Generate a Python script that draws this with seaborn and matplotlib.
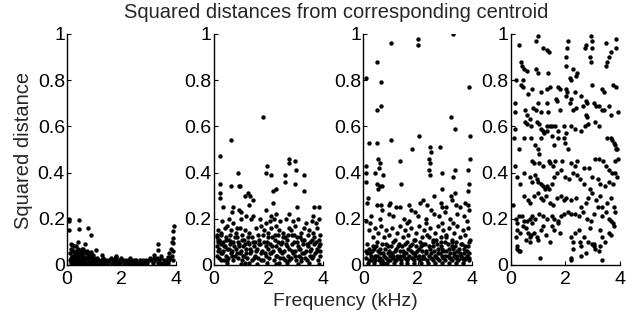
import matplotlib
matplotlib.use("Agg")
import matplotlib.pyplot as plt
import seaborn as sns

# (frequency kHz, squared distance), one list per cluster
cluster1_pts = [
    (0.09, 0.20), (0.09, 0.19), (0.09, 0.15), (0.45, 0.195), (0.45, 0.155),
    (0.76, 0.16), (0.88, 0.13), (0.42, 0.10), (0.67, 0.09), (0.33, 0.08),
    (0.57, 0.07), (0.72, 0.06), (1.06, 0.065), (3.33, 0.09), (3.33, 0.065),
    (3.94, 0.17), (3.91, 0.145), (3.88, 0.115), (3.85, 0.10), (3.90, 0.095),
    (3.82, 0.07), (3.75, 0.05), (3.70, 0.035), (1.80, 0.04),
    (0.10, 0.02), (0.12, 0.05), (0.13, 0.01), (0.15, 0.07), (0.16, 0.03),
    (0.18, 0.04), (0.20, 0.01), (0.21, 0.06), (0.23, 0.02), (0.25, 0.08),
    (0.26, 0.04), (0.28, 0.01), (0.30, 0.05), (0.31, 0.03), (0.34, 0.06),
    (0.35, 0.02), (0.37, 0.04), (0.39, 0.01), (0.40, 0.07), (0.42, 0.03),
    (0.44, 0.05), (0.46, 0.02), (0.48, 0.04), (0.50, 0.06), (0.51, 0.01),
    (0.53, 0.03), (0.55, 0.05), (0.57, 0.02), (0.60, 0.04), (0.62, 0.01),
    (0.63, 0.06), (0.65, 0.03), (0.68, 0.02), (0.70, 0.05), (0.72, 0.01),
    (0.74, 0.03), (0.77, 0.04), (0.80, 0.02), (0.82, 0.05), (0.85, 0.01),
    (0.88, 0.03), (0.90, 0.04), (0.93, 0.02), (0.96, 0.01), (1.00, 0.03),
    (1.03, 0.02), (1.08, 0.01), (1.12, 0.03), (1.15, 0.02), (1.20, 0.01),
    (1.24, 0.02), (1.28, 0.01), (1.32, 0.03), (1.36, 0.02), (1.40, 0.01),
    (1.45, 0.02), (1.50, 0.01), (1.55, 0.02), (1.60, 0.03), (1.64, 0.01),
    (1.68, 0.02), (1.72, 0.01), (1.76, 0.03), (1.80, 0.02), (1.85, 0.01),
    (1.90, 0.02), (1.95, 0.01), (2.00, 0.03), (2.04, 0.02), (2.10, 0.01),
    (2.14, 0.02), (2.20, 0.01), (2.25, 0.02), (2.30, 0.01), (2.36, 0.02),
    (2.40, 0.01), (2.45, 0.02), (2.50, 0.01), (2.55, 0.02), (2.60, 0.01),
    (2.66, 0.01), (2.70, 0.02), (2.76, 0.01), (2.80, 0.02), (2.85, 0.01),
    (2.90, 0.02), (2.95, 0.01), (3.00, 0.02), (3.05, 0.03), (3.10, 0.02),
    (3.15, 0.01), (3.20, 0.03), (3.25, 0.02), (3.30, 0.03), (3.35, 0.01),
    (3.40, 0.02), (3.45, 0.03), (3.50, 0.01), (3.55, 0.02), (3.60, 0.01),
    (3.65, 0.02), (3.70, 0.01), (3.75, 0.02), (3.80, 0.03), (3.85, 0.04),
    (3.88, 0.06), (3.90, 0.02), (0.14, 0.09), (0.18, 0.085), (0.22, 0.06),
    (0.33, 0.05), (0.58, 0.07), (0.88, 0.055), (0.95, 0.045), (1.30, 0.045),
    (1.82, 0.035), (2.30, 0.03), (3.20, 0.045), (3.45, 0.04), (3.40, 0.005),
    (1.10, 0.005), (2.50, 0.005), (0.60, 0.005),
]

cluster2_pts = [
    (1.82, 0.64), (0.64, 0.54), (0.23, 0.47), (0.21, 0.35), (0.23, 0.31),
    (0.23, 0.29), (0.88, 0.40), (1.95, 0.43), (1.92, 0.40), (2.12, 0.39),
    (2.75, 0.46), (2.75, 0.44), (3.00, 0.45), (3.02, 0.41), (3.00, 0.35),
    (2.60, 0.39), (2.61, 0.36), (3.33, 0.39), (3.33, 0.32), (0.64, 0.34),
    (0.92, 0.34), (0.97, 0.34), (1.25, 0.31), (1.33, 0.30), (1.43, 0.28),
    (1.13, 0.30), (1.28, 0.26), (2.17, 0.32), (2.29, 0.33), (2.17, 0.27),
    (0.33, 0.25), (0.70, 0.25), (0.67, 0.23), (1.00, 0.23), (0.92, 0.24),
    (3.88, 0.25), (3.69, 0.25), (3.66, 0.21), (3.05, 0.25), (2.75, 0.22),
    (1.92, 0.24), (2.30, 0.22), (2.10, 0.21),
    (0.30, 0.19), (0.55, 0.20), (0.70, 0.18), (1.00, 0.20), (1.20, 0.21),
    (1.35, 0.20), (1.45, 0.21), (1.70, 0.20), (1.90, 0.18), (2.05, 0.19),
    (2.20, 0.20), (2.45, 0.19), (2.65, 0.20), (2.90, 0.19), (3.10, 0.20),
    (3.40, 0.18), (3.60, 0.19), (3.75, 0.18), (3.85, 0.20),
    (0.15, 0.15), (0.25, 0.14), (0.40, 0.16), (0.50, 0.17), (0.65, 0.15),
    (0.80, 0.14), (0.95, 0.16), (1.15, 0.15), (1.30, 0.14), (1.55, 0.16),
    (1.75, 0.17), (1.85, 0.15), (2.00, 0.14), (2.10, 0.16), (2.30, 0.17),
    (2.40, 0.15), (2.55, 0.14), (2.75, 0.16), (2.85, 0.15), (3.00, 0.17),
    (3.20, 0.14), (3.30, 0.16), (3.50, 0.15), (3.65, 0.14), (3.80, 0.16),
    (3.90, 0.13), (0.12, 0.12), (0.20, 0.11), (0.28, 0.13), (0.35, 0.10),
    (0.45, 0.12), (0.55, 0.11), (0.60, 0.13), (0.72, 0.10), (0.85, 0.12),
    (0.90, 0.10), (1.05, 0.13), (1.10, 0.11), (1.25, 0.10), (1.40, 0.12),
    (1.50, 0.10), (1.65, 0.11), (1.80, 0.13), (1.95, 0.10), (2.15, 0.12),
    (2.25, 0.11), (2.35, 0.13), (2.50, 0.10), (2.60, 0.12), (2.70, 0.11),
    (2.95, 0.13), (3.05, 0.10), (3.15, 0.12), (3.25, 0.11), (3.45, 0.13),
    (3.55, 0.10), (3.70, 0.12), (3.85, 0.11), (3.92, 0.09),
    (0.10, 0.08), (0.18, 0.07), (0.25, 0.09), (0.32, 0.06), (0.40, 0.08),
    (0.48, 0.07), (0.58, 0.09), (0.66, 0.06), (0.75, 0.08), (0.82, 0.07),
    (0.92, 0.09), (1.00, 0.06), (1.08, 0.08), (1.18, 0.07), (1.28, 0.09),
    (1.38, 0.06), (1.48, 0.08), (1.58, 0.07), (1.70, 0.09), (1.78, 0.06),
    (1.90, 0.08), (2.00, 0.07), (2.08, 0.09), (2.18, 0.06), (2.28, 0.08),
    (2.38, 0.07), (2.48, 0.09), (2.58, 0.06), (2.68, 0.08), (2.78, 0.07),
    (2.88, 0.09), (2.98, 0.06), (3.08, 0.08), (3.18, 0.07), (3.28, 0.09),
    (3.38, 0.06), (3.48, 0.08), (3.58, 0.07), (3.68, 0.09), (3.78, 0.06),
    (3.88, 0.08), (0.12, 0.04), (0.20, 0.03), (0.30, 0.05), (0.38, 0.02),
    (0.45, 0.04), (0.52, 0.03), (0.62, 0.05), (0.70, 0.02), (0.78, 0.04),
    (0.88, 0.03), (0.96, 0.05), (1.05, 0.02), (1.12, 0.04), (1.22, 0.03),
    (1.32, 0.05), (1.42, 0.02), (1.52, 0.04), (1.62, 0.03), (1.72, 0.05),
    (1.82, 0.02), (1.92, 0.04), (2.02, 0.03), (2.12, 0.05), (2.22, 0.02),
    (2.32, 0.04), (2.42, 0.03), (2.52, 0.05), (2.62, 0.02), (2.72, 0.04),
    (2.82, 0.03), (2.92, 0.05), (3.02, 0.02), (3.12, 0.04), (3.22, 0.03),
    (3.32, 0.05), (3.42, 0.02), (3.52, 0.04), (3.62, 0.03), (3.72, 0.05),
    (3.82, 0.02), (3.90, 0.04), (0.50, 0.01), (1.00, 0.005), (1.30, 0.01),
    (1.60, 0.005), (1.95, 0.01), (2.30, 0.005), (2.70, 0.01), (3.10, 0.005),
    (3.50, 0.01), (3.85, 0.005), (0.10, 0.13), (0.15, 0.11),
    (0.14, 0.06), (0.22, 0.10), (0.27, 0.05), (0.36, 0.08), (0.43, 0.11),
    (0.47, 0.02), (0.56, 0.07), (0.64, 0.10), (0.68, 0.04), (0.77, 0.12),
    (0.84, 0.05), (0.94, 0.08), (1.02, 0.11), (1.07, 0.04), (1.16, 0.09),
    (1.20, 0.05), (1.26, 0.12), (1.34, 0.07), (1.44, 0.10), (1.46, 0.03),
    (1.56, 0.06), (1.66, 0.09), (1.74, 0.02), (1.86, 0.10), (1.88, 0.05),
    (1.98, 0.12), (2.06, 0.05), (2.14, 0.08), (2.24, 0.13), (2.27, 0.04),
    (2.36, 0.10), (2.44, 0.06), (2.54, 0.12), (2.56, 0.03), (2.64, 0.09),
    (2.74, 0.13), (2.76, 0.02), (2.86, 0.06), (2.94, 0.10), (3.00, 0.04),
    (3.06, 0.12), (3.14, 0.07), (3.24, 0.05), (3.30, 0.11), (3.36, 0.03),
    (3.44, 0.09), (3.54, 0.06), (3.60, 0.11), (3.66, 0.04), (3.76, 0.10),
    (3.80, 0.07), (3.92, 0.06), (0.16, 0.10), (0.26, 0.02), (1.14, 0.01),
    (2.40, 0.01), (3.20, 0.015), (0.85, 0.16), (1.62, 0.13), (2.86, 0.13),
]

cluster3_pts = [
    (0.12, 0.81), (0.51, 0.88), (0.64, 0.79), (1.03, 0.96), (2.00, 0.98),
    (2.02, 0.95), (3.30, 1.00), (3.88, 0.77), (0.51, 0.67), (0.66, 0.69),
    (3.23, 0.64), (3.36, 0.59), (3.91, 0.56), (0.20, 0.53), (0.51, 0.53),
    (1.03, 0.54), (2.04, 0.56), (1.80, 0.50), (1.37, 0.45), (1.40, 0.35),
    (2.47, 0.51), (2.50, 0.49), (2.81, 0.51),
    (0.12, 0.43), (0.12, 0.40), (0.10, 0.36), (0.55, 0.46), (0.60, 0.44),
    (0.57, 0.42), (0.43, 0.40), (0.73, 0.39), (2.41, 0.46), (2.45, 0.44),
    (2.43, 0.41), (2.47, 0.39), (2.90, 0.40), (3.36, 0.41), (3.30, 0.38),
    (3.85, 0.41), (3.91, 0.46), (3.90, 0.35), (0.50, 0.35), (0.60, 0.34),
    (0.56, 0.33), (0.70, 0.34), (2.88, 0.33), (2.60, 0.30), (3.24, 0.30),
    (3.36, 0.31), (0.18, 0.29), (3.85, 0.32),
    (0.15, 0.27), (0.50, 0.26), (0.65, 0.26), (0.70, 0.24), (0.95, 0.26),
    (1.00, 0.27), (1.20, 0.25), (1.35, 0.25), (1.70, 0.26), (1.75, 0.24),
    (2.10, 0.27), (2.20, 0.28), (2.35, 0.26), (2.85, 0.27), (2.90, 0.25),
    (3.05, 0.25), (3.25, 0.28), (3.40, 0.26), (3.55, 0.25), (3.75, 0.27),
    (3.85, 0.26), (3.90, 0.24), (0.30, 0.21), (0.60, 0.20), (0.95, 0.22),
    (1.10, 0.21), (1.50, 0.20), (1.70, 0.19), (2.00, 0.21), (2.30, 0.20),
    (2.60, 0.22), (2.80, 0.21), (3.00, 0.23), (3.20, 0.20), (3.45, 0.22),
    (3.70, 0.21), (3.80, 0.19), (0.10, 0.19), (1.90, 0.23), (2.50, 0.24),
    (0.20, 0.15), (0.35, 0.12), (0.45, 0.16), (0.55, 0.14), (0.65, 0.17),
    (0.75, 0.12), (0.85, 0.15), (0.95, 0.13), (1.05, 0.16), (1.15, 0.11),
    (1.25, 0.14), (1.35, 0.17), (1.45, 0.12), (1.55, 0.15), (1.65, 0.13),
    (1.75, 0.16), (1.85, 0.11), (1.95, 0.14), (2.05, 0.17), (2.15, 0.12),
    (2.25, 0.15), (2.35, 0.13), (2.45, 0.16), (2.55, 0.11), (2.65, 0.14),
    (2.75, 0.17), (2.85, 0.12), (2.95, 0.15), (3.05, 0.13), (3.15, 0.16),
    (3.25, 0.11), (3.35, 0.14), (3.45, 0.17), (3.55, 0.12), (3.65, 0.15),
    (3.75, 0.13), (3.85, 0.16), (3.92, 0.11), (0.25, 0.18), (1.60, 0.18),
    (2.30, 0.18), (2.90, 0.18), (3.30, 0.18),
    (0.15, 0.09), (0.35, 0.08), (0.50, 0.10), (0.70, 0.09), (0.90, 0.08),
    (1.10, 0.10), (1.30, 0.09), (1.42, 0.08), (1.60, 0.10), (1.80, 0.09),
    (1.95, 0.08), (2.10, 0.10), (2.20, 0.09), (2.40, 0.08), (2.55, 0.10),
    (2.70, 0.09), (2.85, 0.08), (3.00, 0.10), (3.10, 0.09), (3.25, 0.08),
    (3.40, 0.10), (3.60, 0.09), (3.75, 0.08), (3.88, 0.10),
    (0.10, 0.06), (0.25, 0.05), (0.40, 0.07), (0.55, 0.06), (0.62, 0.05),
    (0.80, 0.07), (0.95, 0.06), (1.05, 0.05), (1.20, 0.07), (1.35, 0.06),
    (1.50, 0.05), (1.65, 0.07), (1.75, 0.06), (1.90, 0.05), (2.05, 0.07),
    (2.15, 0.06), (2.30, 0.05), (2.45, 0.07), (2.60, 0.06), (2.75, 0.05),
    (2.90, 0.07), (3.05, 0.06), (3.20, 0.05), (3.30, 0.07), (3.45, 0.06),
    (3.55, 0.05), (3.70, 0.07), (3.80, 0.06), (3.90, 0.05),
    (0.12, 0.03), (0.20, 0.02), (0.30, 0.04), (0.38, 0.03), (0.45, 0.02),
    (0.52, 0.04), (0.60, 0.03), (0.68, 0.02), (0.75, 0.04), (0.85, 0.03),
    (0.92, 0.02), (1.00, 0.04), (1.08, 0.03), (1.15, 0.02), (1.25, 0.04),
    (1.32, 0.03), (1.40, 0.02), (1.48, 0.04), (1.55, 0.03), (1.62, 0.02),
    (1.70, 0.04), (1.78, 0.03), (1.85, 0.02), (1.92, 0.04), (2.00, 0.03),
    (2.08, 0.02), (2.18, 0.04), (2.25, 0.03), (2.35, 0.02), (2.42, 0.04),
    (2.50, 0.03), (2.58, 0.02), (2.65, 0.04), (2.72, 0.03), (2.80, 0.02),
    (2.88, 0.04), (2.95, 0.03), (3.02, 0.02), (3.12, 0.04), (3.18, 0.03),
    (3.28, 0.02), (3.35, 0.04), (3.42, 0.03), (3.50, 0.02), (3.58, 0.04),
    (3.65, 0.03), (3.72, 0.02), (3.82, 0.04), (3.88, 0.03),
    (0.18, 0.01), (0.40, 0.01), (0.65, 0.01), (0.88, 0.01), (1.12, 0.01),
    (1.38, 0.01), (1.60, 0.01), (1.88, 0.01), (2.12, 0.01), (2.38, 0.01),
    (2.62, 0.01), (2.90, 0.01), (3.15, 0.01), (3.40, 0.01), (3.68, 0.01),
    (0.14, 0.05), (0.22, 0.07), (0.28, 0.02), (0.33, 0.06), (0.42, 0.04),
    (0.48, 0.08), (0.58, 0.02), (0.63, 0.07), (0.72, 0.05), (0.78, 0.01),
    (0.82, 0.09), (0.90, 0.05), (0.98, 0.02), (1.02, 0.08), (1.10, 0.04),
    (1.18, 0.06), (1.22, 0.02), (1.28, 0.08), (1.36, 0.04), (1.45, 0.06),
    (1.52, 0.09), (1.58, 0.05), (1.66, 0.03), (1.72, 0.08), (1.82, 0.05),
    (1.90, 0.11), (1.98, 0.06), (2.04, 0.04), (2.12, 0.08), (2.20, 0.03),
    (2.28, 0.09), (2.32, 0.06), (2.40, 0.12), (2.48, 0.05), (2.55, 0.08),
    (2.62, 0.04), (2.68, 0.11), (2.74, 0.07), (2.82, 0.05), (2.86, 0.10),
    (2.94, 0.06), (3.00, 0.04), (3.06, 0.12), (3.14, 0.07), (3.20, 0.03),
    (3.26, 0.10), (3.32, 0.05), (3.38, 0.08), (3.46, 0.04), (3.52, 0.07),
    (3.60, 0.03), (3.64, 0.09), (3.70, 0.05), (3.78, 0.03), (3.84, 0.08),
    (3.90, 0.02),
]

cluster4_pts = [
    (0.32, 0.95), (0.99, 0.99), (0.92, 0.97), (1.20, 0.94), (1.32, 0.93),
    (1.40, 0.92), (2.12, 0.97), (2.07, 0.94), (2.05, 0.90), (2.02, 0.86),
    (2.29, 0.85), (2.41, 0.82), (2.78, 0.95), (2.72, 0.94), (2.94, 0.99),
    (3.00, 0.97), (2.97, 0.94), (2.90, 0.90), (2.94, 0.88), (3.51, 0.96),
    (3.70, 0.92), (3.63, 0.90), (3.54, 0.88), (3.49, 0.86), (3.88, 0.98),
    (3.88, 0.94), (0.37, 0.88), (0.40, 0.86), (0.49, 0.85), (0.59, 0.84),
    (0.93, 0.85), (1.02, 0.83), (1.38, 0.83), (2.17, 0.81), (2.23, 0.80),
    (2.44, 0.83), (0.20, 0.80), (0.46, 0.80), (0.38, 0.78), (0.46, 0.77),
    (0.62, 0.74), (0.78, 0.76), (1.12, 0.75), (1.34, 0.76), (1.46, 0.77),
    (1.74, 0.77), (1.80, 0.76), (2.02, 0.76), (2.07, 0.75), (2.05, 0.73),
    (2.38, 0.75), (2.20, 0.72), (2.60, 0.73), (2.76, 0.71), (3.00, 0.78),
    (3.37, 0.76), (3.42, 0.75), (3.76, 0.78), (3.88, 0.77),
    (0.16, 0.70), (0.15, 0.66), (0.53, 0.67), (0.60, 0.65), (0.72, 0.63),
    (0.83, 0.68), (0.93, 0.67), (1.01, 0.70), (1.10, 0.66), (1.32, 0.70),
    (1.38, 0.66), (1.67, 0.72), (1.72, 0.71), (1.80, 0.67), (2.17, 0.70),
    (2.29, 0.67), (2.39, 0.68), (2.66, 0.69), (2.82, 0.70), (2.78, 0.65),
    (2.80, 0.64), (3.07, 0.70), (3.15, 0.69), (3.24, 0.69), (3.37, 0.67),
    (3.44, 0.67), (3.63, 0.69), (3.70, 0.65), (3.94, 0.66),
    (0.16, 0.59), (0.13, 0.55), (0.53, 0.62), (0.60, 0.61), (0.73, 0.60),
    (0.95, 0.62), (1.05, 0.61), (1.12, 0.59), (1.20, 0.58), (1.32, 0.60),
    (1.44, 0.60), (1.50, 0.60), (1.63, 0.60), (1.73, 0.58), (1.96, 0.60),
    (2.05, 0.57), (2.20, 0.60), (2.38, 0.59), (2.60, 0.58), (2.74, 0.60),
    (2.84, 0.61), (3.10, 0.62), (3.25, 0.60), (3.55, 0.55), (3.70, 0.55),
    (3.72, 0.54), (3.78, 0.53), (3.85, 0.52), (3.88, 0.50), (3.92, 0.50),
    (0.30, 0.50), (0.16, 0.43), (0.50, 0.55), (0.74, 0.55), (0.90, 0.52),
    (1.00, 0.50), (1.05, 0.48), (1.13, 0.55), (1.23, 0.57), (1.35, 0.58),
    (1.50, 0.56), (1.60, 0.52), (1.74, 0.55), (1.96, 0.55), (2.00, 0.53),
    (2.10, 0.50), (0.80, 0.45), (0.86, 0.44), (1.05, 0.44), (1.20, 0.43),
    (1.40, 0.45), (1.45, 0.44), (1.55, 0.43), (1.62, 0.45), (1.90, 0.45),
    (2.20, 0.44), (2.35, 0.43), (2.45, 0.45), (2.70, 0.42), (2.88, 0.42),
    (3.10, 0.46), (3.25, 0.46), (3.38, 0.45), (3.50, 0.43), (3.63, 0.41),
    (3.72, 0.40), (3.85, 0.45), (3.94, 0.46),
    (0.25, 0.38), (0.35, 0.35), (0.50, 0.40), (0.70, 0.38), (0.80, 0.36),
    (0.90, 0.39), (0.95, 0.37), (1.00, 0.36), (1.10, 0.35), (1.18, 0.34),
    (1.25, 0.33), (1.35, 0.34), (1.40, 0.33), (1.50, 0.35), (1.60, 0.38),
    (1.70, 0.40), (1.85, 0.41), (2.00, 0.38), (2.15, 0.37), (2.30, 0.40),
    (2.45, 0.39), (2.55, 0.37), (2.70, 0.35), (2.90, 0.33), (3.00, 0.38),
    (3.20, 0.37), (3.30, 0.35), (3.45, 0.34), (3.60, 0.36), (3.75, 0.35),
    (3.85, 0.40), (3.92, 0.38),
    (0.50, 0.30), (0.62, 0.28), (0.72, 0.27), (0.85, 0.30), (1.00, 0.31),
    (1.10, 0.29), (1.20, 0.28), (1.30, 0.30), (1.45, 0.27), (1.55, 0.26),
    (1.70, 0.29), (1.85, 0.30), (1.95, 0.28), (2.05, 0.29), (2.20, 0.28),
    (2.40, 0.29), (2.60, 0.25), (2.75, 0.27), (2.85, 0.29), (3.00, 0.31),
    (3.15, 0.28), (3.30, 0.30), (3.35, 0.25), (3.55, 0.27), (3.70, 0.29),
    (3.80, 0.25), (0.10, 0.26),
    (0.20, 0.20), (0.25, 0.18), (0.30, 0.21), (0.40, 0.21), (0.50, 0.19),
    (0.60, 0.19), (0.70, 0.20), (0.80, 0.21), (0.78, 0.18), (0.90, 0.20),
    (1.05, 0.22), (1.20, 0.21), (1.35, 0.20), (1.50, 0.21), (1.60, 0.20),
    (1.75, 0.19), (1.85, 0.21), (1.95, 0.22), (2.10, 0.23), (2.20, 0.22),
    (2.35, 0.22), (2.50, 0.21), (2.65, 0.23), (2.80, 0.20), (2.95, 0.19),
    (3.05, 0.22), (3.20, 0.25), (3.35, 0.21), (3.50, 0.23), (3.60, 0.20),
    (3.70, 0.19), (3.85, 0.23),
    (0.25, 0.15), (0.35, 0.14), (0.45, 0.17), (0.55, 0.16), (0.62, 0.14),
    (0.70, 0.12), (0.75, 0.13), (0.85, 0.14), (0.95, 0.12), (1.00, 0.11),
    (1.10, 0.15), (1.20, 0.17), (1.30, 0.13), (1.45, 0.10), (1.50, 0.17),
    (1.60, 0.15), (1.75, 0.18), (1.80, 0.14), (2.20, 0.12), (2.30, 0.10),
    (2.35, 0.14), (2.50, 0.15), (2.55, 0.10), (2.60, 0.08), (2.70, 0.12),
    (2.85, 0.10), (2.90, 0.16), (3.05, 0.09), (3.10, 0.07), (3.30, 0.15),
    (3.35, 0.12), (3.45, 0.10), (3.60, 0.14), (3.70, 0.13), (3.80, 0.17),
    (3.75, 0.18),
    (0.20, 0.12), (0.22, 0.08), (0.25, 0.07), (0.30, 0.06), (0.35, 0.06),
    (0.55, 0.11), (0.72, 0.10), (1.08, 0.03), (2.20, 0.03), (2.22, 0.02),
    (2.30, 0.07), (2.60, 0.04), (3.00, 0.09), (3.05, 0.08), (3.25, 0.06),
    (3.35, 0.02), (3.30, 0.08), (2.75, 0.05),
]

panels = [cluster1_pts, cluster2_pts, cluster3_pts, cluster4_pts]
freq_ticks = [0, 2, 4]
dist_ticks = [0, 0.2, 0.4, 0.6, 0.8, 1]
dist_labels = ["0", "0.2", "0.4", "0.6", "0.8", "1"]

sns.set_style("ticks")
plt.rcParams["font.family"] = ["Liberation Sans", "DejaVu Sans"]
plt.rcParams["font.size"] = 14

fig = plt.figure(figsize=(6.44, 3.2), dpi=100)
lefts = [0.104, 0.332, 0.564, 0.793]

for left, pts in zip(lefts, panels):
    ax = fig.add_axes([left, 0.172, 0.169, 0.722])
    xs, ys = zip(*pts)
    sns.scatterplot(x=list(xs), y=list(ys), ax=ax, color="black", s=10,
                    linewidth=0, legend=False)
    ax.set_xlim(0, 4)
    ax.set_ylim(0, 1)
    ax.set_xticks(freq_ticks)
    ax.set_xticklabels([str(t) for t in freq_ticks])
    ax.set_yticks(dist_ticks)
    ax.set_yticklabels(dist_labels)
    ax.tick_params(direction="in", length=3, width=0.8, labelsize=14,
                   colors="black")
    ax.tick_params(axis="x", pad=4)
    ax.tick_params(axis="y", pad=1.5)
    sns.despine(ax=ax)
    for s in ["left", "bottom"]:
        ax.spines[s].set_linewidth(1.0)
        ax.spines[s].set_color("black")

fig.text(0.522, 0.962, "Squared distances from corresponding centroid",
         ha="center", va="center", fontsize=14.5)
fig.text(0.537, 0.057, "Frequency (kHz)", ha="center", va="center",
         fontsize=14)
fig.text(0.036, 0.53, "Squared distance", ha="center", va="center",
         rotation=90, fontsize=14.5)

fig.savefig("out.png", dpi=100)
